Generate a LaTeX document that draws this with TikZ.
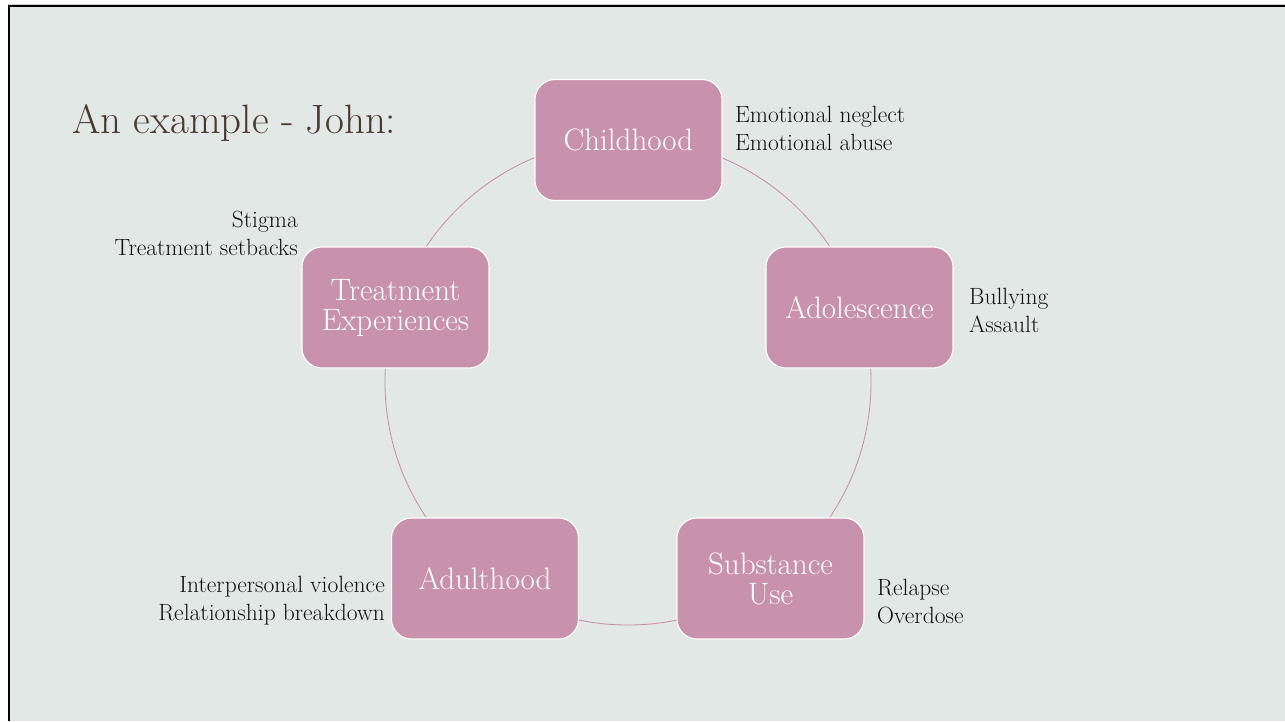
\documentclass[tikz,border=0pt]{standalone}
\usepackage{xcolor}
\definecolor{slidebg}{HTML}{E1E8E5}
\definecolor{rose}{HTML}{C992AC}
\definecolor{ringcol}{HTML}{C98AA6}
\definecolor{titlecol}{HTML}{4A3832}
\definecolor{notecol}{HTML}{101010}
\tikzset{
  stage/.style={rectangle, rounded corners=20pt, fill=rose, draw=white,
    line width=1.1pt, minimum width=187pt, minimum height=121pt,
    text=white, align=center, inner sep=0pt,
    font=\fontsize{31}{30}\selectfont},
  note/.style={text=notecol, inner sep=0pt,
    font=\fontsize{23.5}{28}\selectfont},
}
\begin{document}
\begin{tikzpicture}[x=1pt,y=-1pt]
  % page and slide frame
  \useasboundingbox (0,0) rectangle (1285,721);
  \fill[white] (0,0) rectangle (1285,721);
  \fill[slidebg] (10,7) rectangle (1285,721);
  \draw[gray!40, line width=1pt] (8,4) -- (1285,4);
  \draw[black, line width=2.6pt] (9,721) -- (9,6) -- (1285,6);

  % title
  \node[anchor=base west, text=titlecol, inner sep=0pt,
        font=\fontsize{41}{46}\selectfont] (title) at (72,133) {An example - John:};

  % cycle ring behind the stages
  \node[circle, draw=ringcol, line width=0.8pt, minimum size=486pt,
        inner sep=0pt] (ring) at (628,382) {};

  % stages
  \node[stage] (child) at (628.5,140) {Childhood};
  \node[stage] (adol)  at (859.5,307.5) {Adolescence};
  \node[stage] (subst) at (770.5,578.5) {Substance\\Use};
  \node[stage] (adult) at (485,578.5) {Adulthood};
  \node[stage] (treat) at (395.5,307.5) {Treatment\\Experiences};

  % notes beside each stage (anchored on the baseline of the last line)
  \node[note, anchor=base west, align=left]  (childnote) at (735,150) {Emotional neglect\\Emotional abuse};
  \node[note, anchor=base east, align=right] (treatnote) at (298,255) {Stigma\\Treatment setbacks};
  \node[note, anchor=base west, align=left]  (adolnote)  at (969,332) {Bullying\\Assault};
  \node[note, anchor=base east, align=right] (adultnote) at (385,620) {Interpersonal violence\\Relationship breakdown};
  \node[note, anchor=base west, align=left]  (substnote) at (877,623) {Relapse\\Overdose};
\end{tikzpicture}
\end{document}
